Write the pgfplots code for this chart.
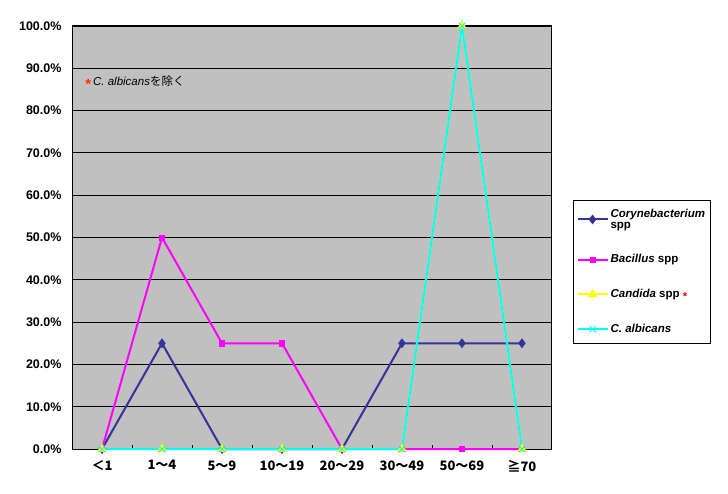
\documentclass[border=0pt]{standalone}
\usepackage{fontspec}
\setmainfont{Liberation Sans}
\newfontfamily\cjk{Noto Sans CJK JP}
\usepackage{pgfplots}
\pgfplotsset{compat=1.18}
\definecolor{bg}{HTML}{C0C0C0}
\definecolor{navy}{HTML}{333399}
\definecolor{mag}{HTML}{FF00FF}
\definecolor{yel}{HTML}{FFFF00}
\definecolor{cya}{HTML}{00FFFF}
\definecolor{ast}{HTML}{FF3300}
\begin{document}
\begin{tikzpicture}[x=1pt,y=1pt]
\path[use as bounding box] (0,0) rectangle (728,493);
\begin{axis}[
  at={(72pt,44pt)}, anchor=south west,
  scale only axis, width=480pt, height=423pt,
  xmin=-0.5, xmax=7.5, ymin=0, ymax=100,
  xtick={0,...,7},
  xticklabels={{\cjk ＜1},{\cjk 1～4},{\cjk 5～9},{\cjk 10～19},{\cjk 20～29},{\cjk 30～49},{\cjk 50～69},{\cjk ≧70}},
  minor xtick={0.5,1.5,...,6.5},
  major x tick style={draw=none},
  minor tick length=4pt,
  minor x tick style={black, line width=0.8pt},
  xtick pos=lower,
  ytick={0,10,...,100},
  major y tick style={draw=none},
  ymajorgrids, grid style={black, line width=0.9pt},
  yticklabel={\pgfmathprintnumber[fixed,fixed zerofill,precision=1]{\tick}\%},
  /pgf/number format/assume math mode=true,
  yticklabel style={font=\bfseries\fontsize{12.5}{14}\selectfont, xshift=-7pt},
  xticklabel style={font=\bfseries\fontsize{13}{15}\selectfont, yshift=-8pt},
  axis background/.style={fill=bg},
  axis line style={black, line width=1pt},
  clip=false,
  legend style={at={(1.044,0.589)}, anchor=north west, draw=black, line width=0.9pt, fill=white,
    font=\bfseries\fontsize{11.5}{10.5}\selectfont, cells={anchor=west, align=left},
    row sep=21pt, inner xsep=3pt, inner ysep=7pt},
  legend image code/.code={\draw[mark repeat=2,mark phase=2,#1] plot coordinates {(0pt,0pt) (15pt,0pt) (30pt,0pt)};},
]
\addplot[navy, line width=2pt, mark=diamond*, mark size=4.5pt, mark options={fill=navy, draw=navy, line width=0.5pt}]
  coordinates {(0,0) (1,25) (2,0) (3,0) (4,0) (5,25) (6,25) (7,25)};
\addlegendentry{\textit{Corynebacterium}\\spp}
\addplot[mag, line width=2pt, mark=square*, mark size=2.7pt, mark options={fill=mag, draw=mag, line width=0.5pt}]
  coordinates {(0,0) (1,50) (2,25) (3,25) (4,0) (5,0) (6,0) (7,0)};
\addlegendentry{\textit{Bacillus} spp}
\addplot[yel, line width=2pt, mark=triangle*, mark size=5pt, mark options={fill=yel, draw=yel, line width=0.5pt}]
  coordinates {(0,0) (1,0) (2,0) (3,0) (4,0) (5,0) (6,100) (7,0)};
\addlegendentry{\textit{Candida} spp \raisebox{-2.5pt}{\textcolor{red}{*}}}
\addplot[cya, line width=2pt, mark=x, mark size=4.5pt, mark options={draw=cya, line width=1pt}]
  coordinates {(0,0) (1,0) (2,0) (3,0) (4,0) (5,0) (6,100) (7,0)};
\addlegendentry{\textit{C. albicans}}
\node[anchor=west, font=\fontsize{11.5}{13}\selectfont, inner sep=0pt] at (axis cs:-0.28,86.5)
  {\raisebox{-4pt}{\textcolor{ast}{\fontsize{15}{15}\selectfont\textbf{*}}}\,\textit{C. albicans}{\cjk を除く}};
\end{axis}
\end{tikzpicture}
\end{document}
